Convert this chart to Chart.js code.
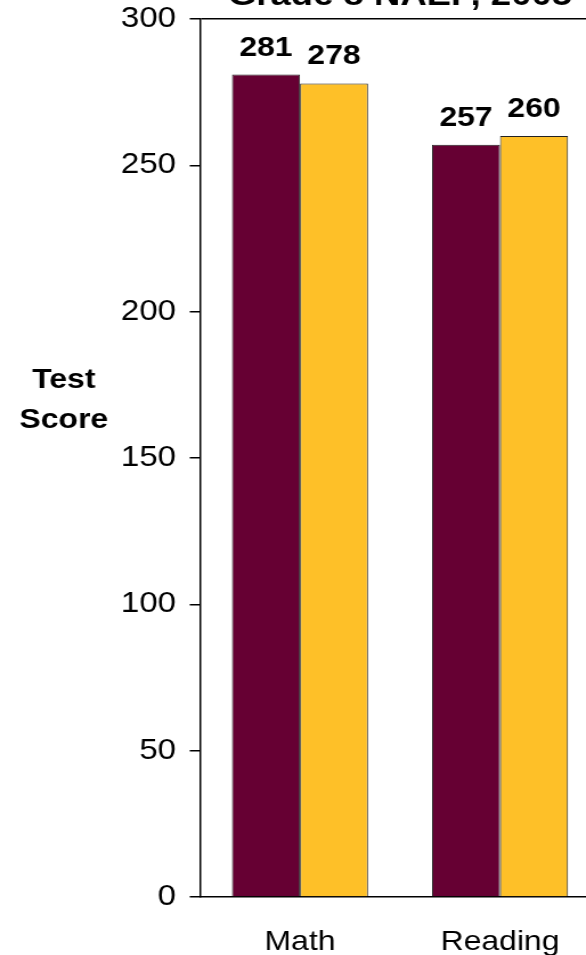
<!DOCTYPE html>
<html>
<head>
<meta charset="utf-8">
<script src="https://cdn.jsdelivr.net/npm/chart.js@4/dist/chart.umd.min.js"></script>
<style>
html, body { margin: 0; padding: 0; background: #fff; overflow: hidden; }
#wrap { position: absolute; left: 0; top: 0; width: 530px; height: 955px; transform-origin: 0 0; }
</style>
</head>
<body>
<div id="wrap"><canvas id="chart" width="530" height="955"></canvas></div>
<script>
// Grade 8 NAEP, 2005 - test scores
const categories = ["Math", "Reading"]
const stateScores = [281, 257]
const nationScores = [278, 260]
const yTicks = [0, 50, 100, 150, 200, 250, 300]
const titleText = "Grade 8 NAEP, 2005"
const axisTitle = ["Test", "Score"]

// the reference picture is stretched sideways, so the canvas is too
const STRETCH = 1.14
document.getElementById("wrap").style.transform = "scaleX(" + STRETCH + ")"

const FONT = '"Liberation Sans", Arial, sans-serif'

// draws value labels, the (cut-off) title and the horizontal axis title
const extras = {
    id: 'extras',
    afterDatasetsDraw(chart) {
        const ctx = chart.ctx
        const area = chart.chartArea
        ctx.save()
        ctx.fillStyle = '#000'
        ctx.textAlign = 'center'
        ctx.textBaseline = 'alphabetic'
        ctx.font = 'bold 28px ' + FONT
        chart.data.datasets.forEach((ds, i) => {
            chart.getDatasetMeta(i).data.forEach((bar, j) => {
                ctx.fillText(ds.data[j], bar.x, bar.y - 19)
            })
        })

        ctx.font = 'bold 32px ' + FONT
        ctx.fillText(titleText, (area.left + area.right) / 2, 5)

        ctx.font = 'bold 28px ' + FONT
        ctx.fillText(axisTitle[0], 56, 388)
        ctx.fillText(axisTitle[1], 56, 428)
        ctx.restore()
    }
}

new Chart(document.getElementById("chart"), {
    type: 'bar',
    data: {
        labels: categories,
        datasets: [
            {
                label: "State",
                data: stateScores,
                backgroundColor: '#660033',
                borderColor: '#222',
                borderWidth: 1,
                barPercentage: 1,
                categoryPercentage: 0.68
            },
            {
                label: "Nation",
                data: nationScores,
                backgroundColor: '#FEC028',
                borderColor: '#222',
                borderWidth: 1,
                barPercentage: 1,
                categoryPercentage: 0.68
            }
        ]
    },
    options: {
        responsive: false,
        animation: false,
        devicePixelRatio: 1,
        layout: {
            padding: { top: 19, left: 0, right: 530 - 600 / STRETCH, bottom: 0 }
        },
        plugins: {
            legend: { display: false },
            tooltip: { enabled: false }
        },
        scales: {
            x: {
                afterFit: (scale) => { scale.height = 58 },
                grid: { display: false, drawTicks: false },
                border: { display: true, color: '#000', width: 1.5 },
                ticks: {
                    color: '#000',
                    padding: 28,
                    font: { family: FONT, size: 28 }
                }
            },
            y: {
                min: 0,
                max: 300,
                afterFit: (scale) => {
                    scale.width = 200 / STRETCH
                    scale.paddingTop = 0
                    scale.paddingBottom = 0
                },
                afterBuildTicks: (scale) => {
                    scale.ticks = yTicks.map(v => ({ value: v }))
                },
                grid: {
                    color: (c) => (c.tick && c.tick.value === 300) ? '#000' : 'rgba(0,0,0,0)',
                    tickColor: '#000',
                    tickLength: 9,
                    lineWidth: 1.5
                },
                border: { display: true, color: '#000', width: 1.5 },
                ticks: {
                    color: '#000',
                    padding: 12,
                    font: { family: FONT, size: 29 }
                }
            }
        }
    },
    plugins: [extras]
})
</script>
</body>
</html>
